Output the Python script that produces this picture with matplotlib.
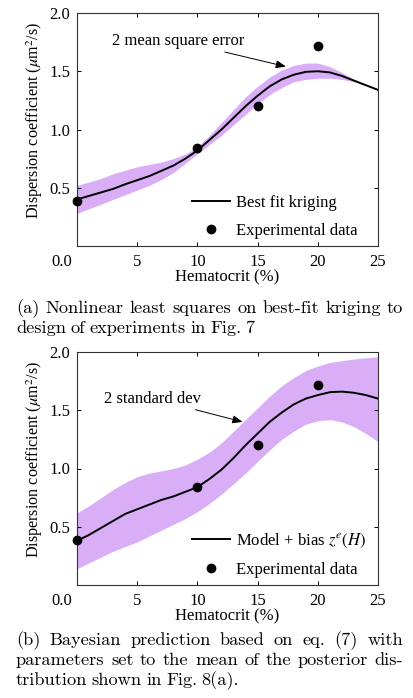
import numpy as np
import matplotlib
matplotlib.use('Agg')
from matplotlib import pyplot as plt
from matplotlib.lines import Line2D
import matplotlib.transforms as mtransforms

plt.rcParams['font.family'] = ['Liberation Serif', 'DejaVu Serif']
plt.rcParams['mathtext.fontset'] = 'stix'

# hematocrit grid (%)
h = np.arange(0, 26)

# (a) best-fit kriging and its 2 mean square error band
kr_mean = [0.40, 0.43, 0.46, 0.49, 0.53, 0.565, 0.60, 0.645, 0.69, 0.75, 0.82, 0.91, 1.00,
           1.10, 1.20, 1.29, 1.37, 1.43, 1.47, 1.495, 1.50, 1.49, 1.46, 1.42, 1.38, 1.34]
kr_up = [0.52, 0.55, 0.58, 0.62, 0.65, 0.68, 0.70, 0.72, 0.75, 0.79, 0.85, 0.95, 1.06,
         1.17, 1.28, 1.37, 1.45, 1.51, 1.55, 1.57, 1.57, 1.54, 1.49, 1.43, 1.385, 1.34]
kr_lo = [0.28, 0.32, 0.36, 0.40, 0.44, 0.48, 0.52, 0.57, 0.63, 0.71, 0.79, 0.87, 0.95,
         1.04, 1.13, 1.22, 1.30, 1.36, 1.41, 1.43, 1.44, 1.44, 1.43, 1.41, 1.375, 1.34]

# (b) model + bias and its 2 standard deviation band
bay_mean = [0.38, 0.43, 0.49, 0.55, 0.61, 0.65, 0.69, 0.73, 0.76, 0.80, 0.84, 0.91, 0.99,
            1.09, 1.20, 1.30, 1.40, 1.48, 1.55, 1.60, 1.63, 1.655, 1.66, 1.65, 1.63, 1.60]
bay_up = [0.62, 0.68, 0.75, 0.82, 0.88, 0.93, 0.96, 0.98, 1.00, 1.03, 1.08, 1.14, 1.22,
          1.32, 1.42, 1.52, 1.62, 1.71, 1.78, 1.84, 1.88, 1.91, 1.925, 1.94, 1.95, 1.96]
bay_lo = [0.14, 0.19, 0.24, 0.29, 0.33, 0.37, 0.42, 0.47, 0.52, 0.57, 0.63, 0.70, 0.78,
          0.87, 0.96, 1.06, 1.16, 1.25, 1.32, 1.38, 1.41, 1.42, 1.40, 1.36, 1.30, 1.23]

# experimental data
exp_h = [0, 10, 15, 20]
exp_d = [0.39, 0.845, 1.20, 1.72]

xticks = [0, 5, 10, 15, 20, 25]
xticklabels = ['0.0', '5', '10', '15', '20', '25']
yticks = [0.5, 1.0, 1.5, 2.0]
yticklabels = ['0.5', '1.0', '1.5', '2.0']

band_col = '#d9aef7'
fs = 12

fig = plt.figure(figsize=(4.13, 6.98), dpi=100)
W, H = 413.0, 698.0
ax1 = fig.add_axes([77 / W, 1 - 246 / H, 301 / W, 233 / H])
ax2 = fig.add_axes([77 / W, 1 - 585 / H, 301 / W, 233 / H])


def setup(ax, mean, up, lo, label, note, note_xy, head_xy):
    ax.fill_between(h, lo, up, color=band_col, lw=0, zorder=1)
    ax.plot(h, mean, color='black', lw=1.4, zorder=3)
    ax.plot(exp_h, exp_d, 'o', color='black', ms=6, clip_on=False, zorder=4)
    ax.set_xlim(0, 25)
    ax.set_ylim(0, 2.0)
    ax.set_xticks(xticks)
    ax.set_xticklabels(xticklabels)
    ax.set_yticks(yticks)
    ax.set_yticklabels(yticklabels)
    ax.tick_params(direction='in', length=3, width=0.7, top=True, right=True,
                   labelsize=fs, pad=5)
    ax.tick_params(axis='x', pad=6)
    # shift the "0.0" label to the left like in the original
    lab0 = ax.get_xticklabels()[0]
    off = mtransforms.ScaledTranslation(-15 / 100, 0, fig.dpi_scale_trans)
    lab0.set_transform(lab0.get_transform() + off)
    for s in ax.spines.values():
        s.set_linewidth(0.8)
        s.set_color('#333333')
    ax.set_xlabel('Hematocrit (%)', fontsize=fs, labelpad=-1)
    ax.set_ylabel(r'Dispersion coefficient ($\mu$m$^2$/s)', fontsize=11.6)
    ax.yaxis.set_label_coords(-0.105, 0.54)
    ax.annotate(note, xy=head_xy, xytext=note_xy, ha='right', va='center', fontsize=fs,
                arrowprops=dict(arrowstyle='-|>,head_length=0.5,head_width=0.2',
                                color='black', lw=0.7, shrinkA=1, shrinkB=0))
    handles = [Line2D([], [], color='black', lw=1.4),
               Line2D([], [], ls='none', marker='o', color='black', ms=6)]
    ax.legend(handles, [label, 'Experimental data'], loc='lower left',
              bbox_to_anchor=((192 - 77) / 301, 0.03), frameon=False, fontsize=fs,
              handlelength=2.3, handletextpad=0.35, labelspacing=0.75,
              borderpad=0, borderaxespad=0)


setup(ax1, kr_mean, kr_up, kr_lo, 'Best fit kriging', '2 mean square error',
      (13.9, 1.76), (17.35, 1.54))
setup(ax2, bay_mean, bay_up, bay_lo, r'Model + bias $z^e(H)$', '2 standard dev',
      (10.3, 1.60), (13.75, 1.40))

# captions, justified like the paper text
cap_font = dict(family='cmr10', fontsize=13.2)
renderer = fig.canvas.get_renderer()


def caption_line(text, y_px, justify):
    x0, x1 = 16 / W, 403 / W
    y = 1 - y_px / H
    words = text.split(' ')
    ts = [fig.text(x0, y, w, va='baseline', ha='left', **cap_font) for w in words]
    widths = [t.get_window_extent(renderer).width / W for t in ts]
    if justify:
        gap = (x1 - x0 - sum(widths)) / (len(words) - 1)
    else:
        gap = 4.4 / W
    x = x0
    for t, wd in zip(ts, widths):
        t.set_x(x)
        x += wd + gap


caption_line('(a) Nonlinear least squares on best-fit kriging to', 313, True)
caption_line('design of experiments in Fig. 7', 333, False)
caption_line('(b) Bayesian prediction based on eq. (7) with', 645, True)
caption_line('parameters set to the mean of the posterior dis-', 665, True)
caption_line('tribution shown in Fig. 8(a).', 685, False)

fig.savefig('out.png', dpi=100)
